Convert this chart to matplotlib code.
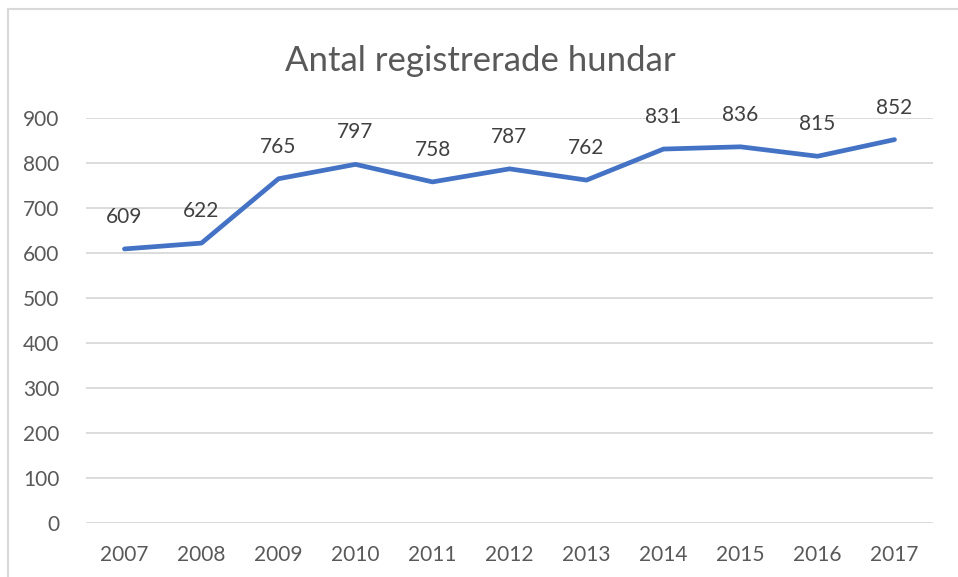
import matplotlib
matplotlib.use("Agg")
import matplotlib.pyplot as plt
from matplotlib.patches import Rectangle

years = ["2007", "2008", "2009", "2010", "2011", "2012", "2013", "2014", "2015", "2016", "2017"]
values = [609, 622, 765, 797, 758, 787, 762, 831, 836, 815, 852]
yticks = [0, 100, 200, 300, 400, 500, 600, 700, 800, 900]

plt.rcParams['font.family'] = ['Lato', 'DejaVu Sans']

W, H = 958, 577
fig = plt.figure(figsize=(W / 100, H / 100), dpi=100)
fig.patches.append(Rectangle((8 / W, -0.1), 2, 1 - 9 / H + 0.1, transform=fig.transFigure,
                             fill=False, edgecolor="#d9d9d9", linewidth=1.5))

ax = fig.add_axes([86 / W, 1 - 523 / H, (933 - 86) / W, (523 - 118) / H])
x = list(range(len(years)))
ax.plot(x, values, color="#4472C4", linewidth=3.4, solid_capstyle="round", solid_joinstyle="round", zorder=3)
for xi, v in zip(x, values):
    ax.annotate(str(v), (xi, v), xytext=(0, 23), textcoords="offset points",
                ha="center", va="center", fontsize=15, color="#404040")

ax.set_xlim(-0.5, len(years) - 0.5)
ax.set_ylim(0, 900)
ax.set_yticks(yticks)
ax.set_xticks(x)
ax.set_xticklabels(years)
ax.grid(axis="y", color="#d9d9d9", linewidth=1.3)
ax.set_axisbelow(True)
for s in ax.spines.values():
    s.set_visible(False)
ax.tick_params(length=0, labelsize=15, labelcolor="#595959", pad=16)
ax.tick_params(axis="y", pad=19)

fig.text(480 / W, 1 - 61 / H, "Antal registrerade hundar", ha="center", va="center",
         fontsize=25, color="#595959")

fig.savefig("out.png", dpi=100)
